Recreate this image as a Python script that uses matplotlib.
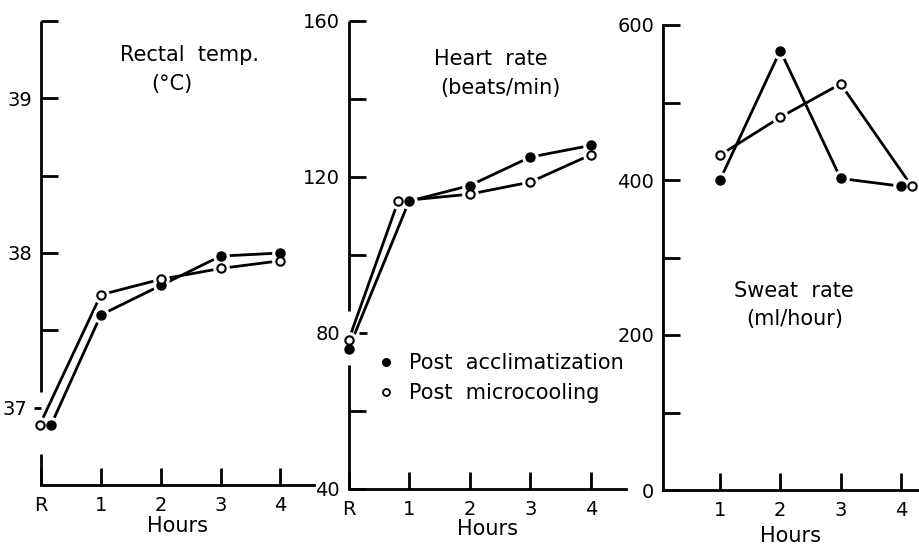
import matplotlib
matplotlib.use('Agg')
import matplotlib.pyplot as plt
from matplotlib.lines import Line2D, TICKLEFT

plt.rcParams['font.family'] = ['DejaVu Sans']

# data
series_names = ['Post  acclimatization', 'Post  microcooling']
hour_labels = ['R', '1', '2', '3', '4']
hour_pos = [0, 1, 2, 3, 4]

# rectal temperature (deg C)
temp_acc_x = [0.17, 1, 2, 3, 4]
temp_acc = [36.89, 37.60, 37.79, 37.98, 38.00]
temp_cool_x = [-0.02, 1, 2, 3, 4]
temp_cool = [36.89, 37.73, 37.83, 37.90, 37.95]

# heart rate (beats/min)
heart_acc_x = [0, 1, 2, 3, 4]
heart_acc = [75.9, 113.8, 117.8, 125.1, 128.1]
heart_cool_x = [0, 0.82, 2, 3, 4]
heart_cool = [78.1, 113.8, 115.6, 118.7, 125.7]

# sweat rate (ml/hour)
sweat_acc_x = [1, 2, 3, 4]
sweat_acc = [400, 567, 402, 392]
sweat_cool_x = [1, 2, 3, 4.18]
sweat_cool = [432, 481, 524, 392]

W, H = 919, 544
fig = plt.figure(figsize=(W / 100, H / 100), dpi=100)


def px_rect(left, right, top, bottom):
    return [left / W, 1 - bottom / H, (right - left) / W, (bottom - top) / H]


def draw_series(ax, xa, ya, xc, yc):
    for x, y in ((xa, ya), (xc, yc)):
        ax.plot(x, y, '-', color='k', lw=2, zorder=2, clip_on=False)
    # white rings leave small gaps between lines and markers
    for x, y in ((xa, ya), (xc, yc)):
        ax.plot(x, y, 'o', ms=11, mfc='white', mec='white', zorder=3, clip_on=False)
    ax.plot(xa, ya, 'o', ms=6.5, mfc='k', mec='k', zorder=4, clip_on=False)
    ax.plot(xc, yc, 'o', ms=6, mfc='white', mec='k', mew=1.5, zorder=4, clip_on=False)


def style(ax):
    for s in ('top', 'right'):
        ax.spines[s].set_visible(False)
    ax.spines['bottom'].set_linewidth(2)
    ax.spines['left'].set_linewidth(2)
    ax.tick_params(direction='in', length=12, width=2, labelsize=14)
    ax.tick_params(axis='y', pad=6)
    ax.tick_params(axis='x', pad=8)


# ---- rectal temperature
ax1 = fig.add_axes(px_rect(41, 314, 21, 485))
style(ax1)
ax1.set_xlim(0, 4.56)
ax1.set_ylim(36.5, 39.5)
ax1.set_xticks(hour_pos)
ax1.set_xticklabels(hour_labels)
ax1.set_yticks([37, 37.5, 38, 38.5, 39, 39.5])
ax1.set_yticklabels(['37', '', '38', '', '39', ''])
ax1.spines['left'].set_visible(False)
ax1.plot([0, 0], [36.5, 36.70], color='k', lw=2, clip_on=False, solid_capstyle='butt')
ax1.plot([0, 0], [37.10, 39.5], color='k', lw=2, clip_on=False, solid_capstyle='butt')
t37 = ax1.yaxis.get_major_ticks()[0]
t37.set_pad(10)
t37.tick1line.set_marker(TICKLEFT)
t37.tick1line.set_markersize(5)
draw_series(ax1, temp_acc_x, temp_acc, temp_cool_x, temp_cool)
ax1.set_xlabel('Hours', fontsize=15, labelpad=1)

# ---- heart rate
ax2 = fig.add_axes(px_rect(348.5, 626, 21, 489))
style(ax2)
ax2.set_xlim(0, 4.58)
ax2.set_ylim(40, 160)
ax2.set_xticks(hour_pos)
ax2.set_xticklabels(hour_labels)
ax2.set_yticks([40, 60, 80, 100, 120, 140, 160])
ax2.set_yticklabels(['40', '', '80', '', '120', '', '160'])
ax2.spines['left'].set_visible(False)
ax2.plot([0, 0], [40, 71.8], color='k', lw=2, clip_on=False, solid_capstyle='butt')
ax2.plot([0, 0], [85.6, 160], color='k', lw=2, clip_on=False, solid_capstyle='butt')
t80 = ax2.yaxis.get_major_ticks()[2]
t80.tick1line.set_visible(False)
ax2.plot([0.18, 0.31], [80, 80], color='k', lw=2, clip_on=False, solid_capstyle='butt',
         zorder=5)
draw_series(ax2, heart_acc_x, heart_acc, heart_cool_x, heart_cool)
ax2.set_xlabel('Hours', fontsize=15, labelpad=0)

# ---- sweat rate
ax3 = fig.add_axes(px_rect(662.7, 919, 25, 490))
style(ax3)
ax3.set_xlim(0.05, 4.3)
ax3.set_ylim(0, 600)
ax3.set_xticks(hour_pos[1:])
ax3.set_xticklabels(hour_labels[1:])
ax3.set_yticks(range(0, 601, 100))
ax3.set_yticklabels(['0', '', '200', '', '400', '', '600'])
draw_series(ax3, sweat_acc_x, sweat_acc, sweat_cool_x, sweat_cool)
ax3.set_xlabel('Hours', fontsize=15, labelpad=4)

# panel captions
for txt, cx, cy in [('Rectal  temp.', 189, 55), ('(°C)', 172, 84),
                    ('Heart  rate', 491, 59), ('(beats/min)', 500, 88),
                    ('Sweat  rate', 794, 291), ('(ml/hour)', 795, 319)]:
    fig.text(cx / W, 1 - cy / H, txt, ha='center', va='center', fontsize=15)

handles = [Line2D([], [], ls='none', marker='o', ms=5.5, mfc='k', mec='k'),
           Line2D([], [], ls='none', marker='o', ms=5, mfc='white', mec='k', mew=1.3)]
fig.legend(handles, series_names, loc='center left',
           bbox_to_anchor=(378 / W, 1 - 378 / H), frameon=False, fontsize=15,
           handlelength=0.8, handletextpad=0.7, labelspacing=0.5,
           borderpad=0, borderaxespad=0)

fig.savefig('out.png', dpi=100)
